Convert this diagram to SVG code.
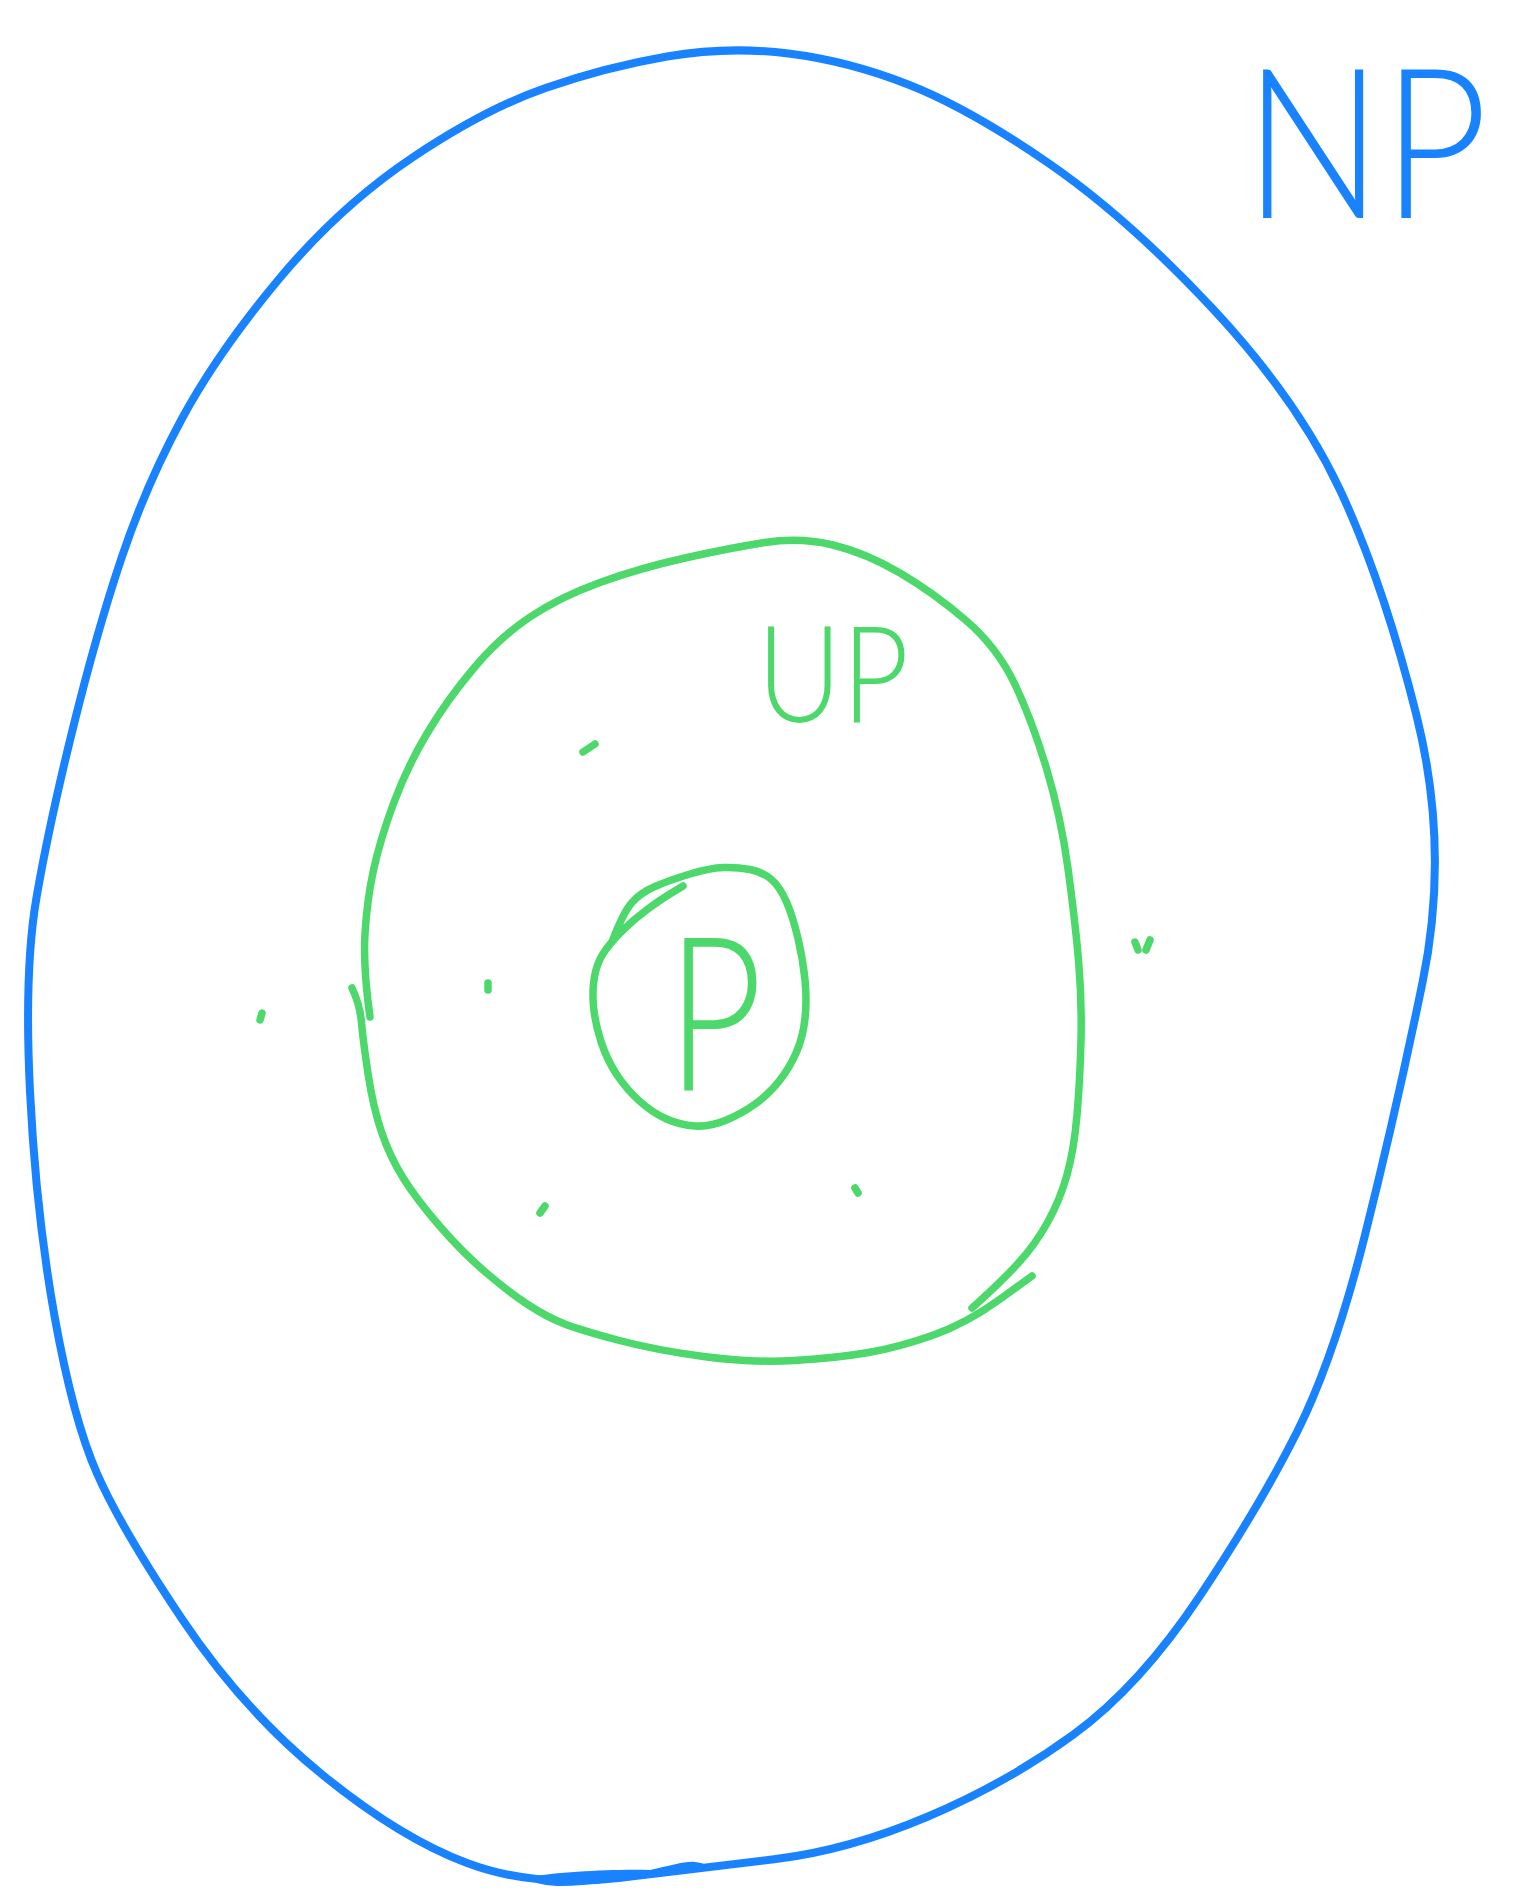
<svg xmlns="http://www.w3.org/2000/svg" width="1538" height="1902" viewBox="0 0 1538 1902">
<style>
.blue{fill:none;stroke:#1882ff;stroke-width:8;stroke-linecap:round;stroke-linejoin:round}
.green{fill:none;stroke:#4cd86a;stroke-width:7.5;stroke-linecap:round;stroke-linejoin:round}
.lblb{font-family:Lato,'Liberation Sans',sans-serif;font-weight:300;fill:#1882ff}
.lblg{font-family:Lato,'Liberation Sans',sans-serif;font-weight:300;fill:#4cd86a}
</style>
<rect width="1538" height="1902" fill="#ffffff"/>
<g id="np">
<path class="blue" d="M667,56.5 Q728,46 788.5,53.5 Q849,61 909.5,85 Q970,109 1049,163.5 Q1128,218 1213,309 Q1298,400 1340.5,491 Q1383,582 1416.5,715.5 Q1450,849 1422.5,982.5 Q1395,1116 1364.5,1237 Q1334,1358 1297.5,1431 Q1261,1504 1200.5,1595 Q1140,1686 1073.5,1734.5 Q1007,1783 928,1816.5 Q849,1850 776,1859 Q703,1868 618.5,1878 Q534,1888 467,1863 Q400,1838 321.5,1774 Q243,1710 182,1619 Q121,1528 97,1473.5 Q73,1419 54.5,1316 Q36,1213 30,1091.5 Q24,970 36.5,897.5 Q49,825 73,728 Q97,631 121.5,558 Q146,485 182,418.5 Q218,352 279,279 Q340,206 412.5,157.5 Q485,109 545.5,88 Q606,67 667,56.5 Z"/>
<path fill="#1882ff" d="M528,1877 C560,1872 610,1869 650,1870 C670,1866 685,1861 695,1862 C705,1863 708,1866 704,1868 L650,1873 C620,1880 590,1886 560,1886 C545,1886 530,1882 528,1877 Z"/>
<text class="lblb" x="1244" y="218" font-size="210" textLength="244" lengthAdjust="spacingAndGlyphs">NP</text>
</g>
<g id="up">
<path class="green" d="M370,1017 Q363,967 365,933.5 Q367,900 373.5,870 Q380,840 393.5,803.5 Q407,767 427,733.5 Q447,700 473.5,668.5 Q500,637 530,617 Q560,597 600,582.5 Q640,568 685,558 Q730,548 765,542.5 Q800,537 833,545 Q866,553 900,573 Q934,593 965.5,620 Q997,647 1014.5,683.5 Q1032,720 1046.5,768.5 Q1061,817 1068,868.5 Q1075,920 1078.5,960 Q1082,1000 1081,1040 Q1080,1080 1077,1115 Q1074,1150 1067,1175 Q1060,1200 1047.5,1222.5 Q1035,1245 1017.5,1264 Q1000,1283 972,1308"/>
<path class="green" d="M1032,1276 L999.5,1299.5 Q967,1323 933.5,1335 Q900,1347 868.5,1352.5 Q837,1358 794.5,1360.5 Q752,1363 703.5,1356.5 Q655,1350 617.5,1340 Q580,1330 563.5,1323.5 Q547,1317 528.5,1305 Q510,1293 486.5,1273 Q463,1253 440,1226.5 Q417,1200 403.5,1178.5 Q390,1157 381.5,1132 Q373,1107 368,1073.5 Q363,1040 361.5,1022.5 Q360,1005 352,988"/>
<text class="lblg" x="757" y="722" font-size="135" textLength="152" lengthAdjust="spacingAndGlyphs">UP</text>
<g class="green">
<path d="M583,752 L595,744"/>
<path d="M260,1020 L262,1013"/>
<path d="M488,983 L488,990"/>
<path d="M540,1213 L545,1206"/>
<path d="M855,1188 L858,1193"/>
<path d="M1135,942 L1138,950 M1150,940 L1146,950"/>
</g>
</g>
<g id="p">
<text class="lblg" x="667" y="1090" font-size="215" textLength="96" lengthAdjust="spacingAndGlyphs">P</text>
<path class="green" d="M612,942 Q623,913 631.5,903 Q640,893 655,886.5 Q670,880 690,874 Q710,868 723.5,867.5 Q737,867 750,869.5 Q763,872 771.5,879.5 Q780,887 786.5,902 Q793,917 798,938.5 Q803,960 805,980 Q807,1000 805,1018.5 Q803,1037 796.5,1052 Q790,1067 780,1080 Q770,1093 756.5,1103 Q743,1113 726.5,1120 Q710,1127 695,1126 Q680,1125 666.5,1119 Q653,1113 640,1101.5 Q627,1090 617,1075 Q607,1060 601,1041.5 Q595,1023 593.5,1006.5 Q592,990 594.5,976.5 Q597,963 603.5,953 Q610,943 621.5,931.5 Q633,920 646.5,910 Q660,900 671.5,893 L683,886"/>
</g>
<g id="connectors"></g>
</svg>
